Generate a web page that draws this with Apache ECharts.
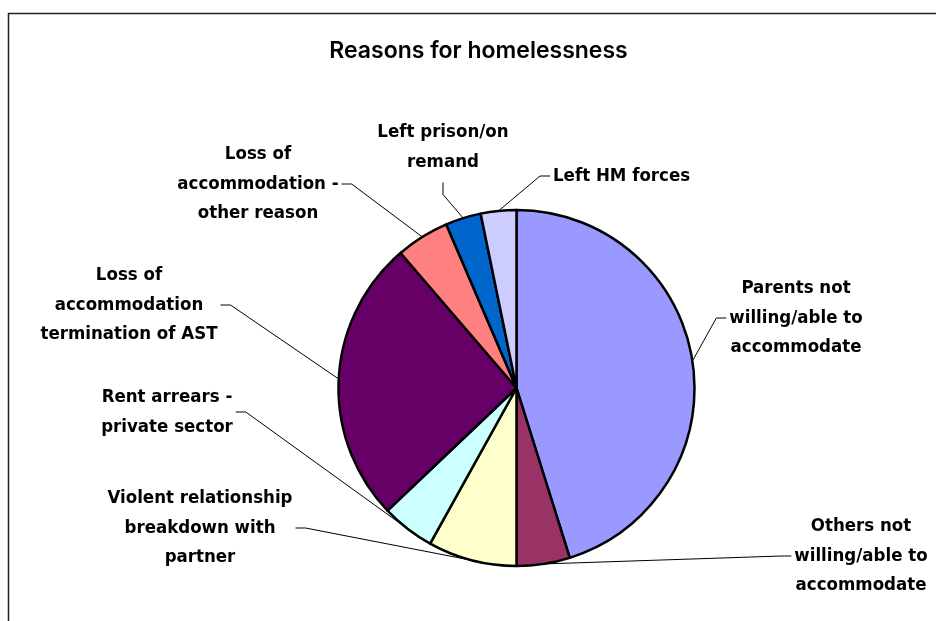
<!DOCTYPE html>
<html>
<head>
<meta charset="utf-8">
<title>Reasons for homelessness</title>
<script src="https://cdn.jsdelivr.net/npm/echarts@6/dist/echarts.min.js"></script>
<style>
  html, body { margin: 0; padding: 0; background: #ffffff; }
  #chart { width: 936px; height: 621px; }
</style>
</head>
<body>
<div id="chart"></div>
<script>
// Reasons for homelessness: number of cases per reason (clockwise from 12 o'clock)
const categories = [
  'Parents not\nwilling/able to\naccommodate',
  'Others not\nwilling/able to\naccommodate',
  'Violent relationship\nbreakdown with\npartner',
  'Rent arrears -\nprivate sector',
  'Loss of\naccommodation\ntermination of AST',
  'Loss of\naccommodation -\nother reason',
  'Left prison/on\nremand',
  'Left HM forces'
];
const counts = [28, 3, 5, 3, 16, 3, 2, 2];
const sliceColors = ['#9999FF', '#993366', '#FFFFCC', '#CCFFFF', '#660066', '#FF8080', '#0066CC', '#CCCCFF'];

// Label placement: anchor point of each text block, its alignment,
// and the side of the block that the leader line leaves from.
const labelPlacement = [
  { x: 796, y: 318, align: 'center', side: 'left' },
  { x: 861, y: 556, align: 'center', side: 'left' },
  { x: 200, y: 528, align: 'center', side: 'right' },
  { x: 167, y: 412, align: 'center', side: 'right' },
  { x: 129, y: 305, align: 'center', side: 'right' },
  { x: 258, y: 184, align: 'center', side: 'right' },
  { x: 443, y: 147, align: 'center', side: 'bottom' },
  { x: 553, y: 176, align: 'left',   side: 'left' }
];

const LABEL_FONT = "'DejaVu Sans Condensed', 'DejaVu Sans', sans-serif";

const chart = echarts.init(document.getElementById('chart'), null, { renderer: 'canvas' });

function placeLabel(p) {
  const pl = labelPlacement[p.dataIndex];
  const w = p.labelRect.width;
  const h = p.labelRect.height;
  const left = pl.align === 'left' ? pl.x : pl.x - w / 2;
  const right = left + w;
  const start = p.labelLinePoints[0]; // edge of the slice at its mid angle
  let end, elbow;
  if (pl.side === 'left') {
    end = [left - 3, pl.y];
    elbow = [end[0] - 10, pl.y];
  } else if (pl.side === 'right') {
    end = [right + 3, pl.y];
    elbow = [end[0] + 10, pl.y];
  } else {
    end = [pl.x, pl.y + h / 2 + 6];
    elbow = [pl.x, end[1] + 12];
  }
  return {
    x: pl.x,
    y: pl.y,
    align: pl.align,
    verticalAlign: 'middle',
    labelLinePoints: [start, elbow, end]
  };
}

chart.setOption({
  backgroundColor: '#ffffff',
  animation: false,
  graphic: [
    {
      type: 'rect',
      shape: { x: 8.5, y: 13.5, width: 1000, height: 700 },
      style: { fill: 'none', stroke: '#222222', lineWidth: 1.5 },
      silent: true
    },
    {
      type: 'text',
      x: 478.5,
      y: 51,
      style: {
        text: 'Reasons for homelessness',
        fill: '#000000',
        font: "600 23px Inter, 'Liberation Sans', sans-serif",
        textAlign: 'center',
        textVerticalAlign: 'middle'
      },
      silent: true
    }
  ],
  series: [
    {
      type: 'pie',
      center: [516.5, 388],
      radius: 178,
      startAngle: 90,
      clockwise: true,
      avoidLabelOverlap: false,
      color: sliceColors,
      itemStyle: { borderColor: '#000000', borderWidth: 2.5 },
      label: {
        show: true,
        position: 'outside',
        color: '#000000',
        fontFamily: LABEL_FONT,
        fontWeight: 'bold',
        fontSize: 18.5,
        lineHeight: 29.5,
        formatter: '{b}'
      },
      labelLine: {
        show: true,
        length: 10,
        length2: 10,
        lineStyle: { color: '#000000', width: 1 }
      },
      labelLayout: placeLabel,
      emphasis: { disabled: true },
      data: categories.map((name, i) => ({ name: name, value: counts[i] }))
    }
  ]
});
</script>
</body>
</html>
